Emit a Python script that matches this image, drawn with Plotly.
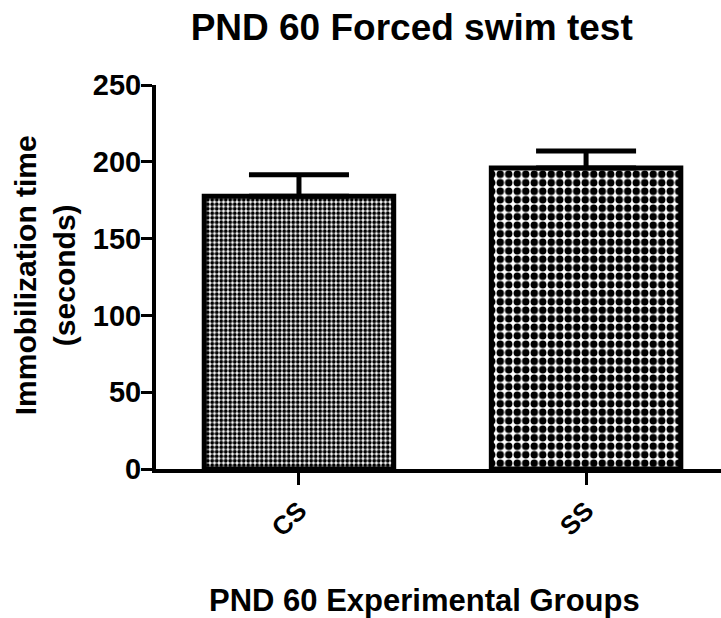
import plotly.graph_objects as go

# Immobilization time (s) per experimental group, mean and upper SEM
groups = ["CS", "SS"]
immobilization = [177.5, 196]
sem = [14, 11]

y_ticks = [0, 50, 100, 150, 200, 250]

# checker-like texture: finer for CS, coarser for SS
pattern_sizes = [4.5, 8.5]

FONT = "Arial, Liberation Sans, sans-serif"

fig = go.Figure(
    go.Bar(
        x=groups,
        y=immobilization,
        width=0.66,
        marker=dict(
            color="white",
            line=dict(color="black", width=5),
            pattern=dict(
                shape=".",
                size=pattern_sizes,
                solidity=0.6,
                fgcolor="black",
                bgcolor="white",
                fillmode="replace",
            ),
        ),
        error_y=dict(
            type="data",
            symmetric=False,
            array=sem,
            arrayminus=[0, 0],
            color="black",
            thickness=5,
            width=50,
        ),
        showlegend=False,
    )
)

fig.update_layout(
    width=721,
    height=618,
    margin=dict(l=156, r=0, t=85, b=149),
    paper_bgcolor="white",
    plot_bgcolor="white",
    font=dict(family=FONT, color="black"),
    title=dict(
        text="<b>PND 60 Forced swim test</b>",
        font=dict(size=37, family=FONT, color="black"),
        xref="container",
        x=0.571,
        xanchor="center",
        yref="container",
        y=0.956,
        yanchor="middle",
    ),
)

fig.update_xaxes(
    range=[-0.498, 1.47],
    tickvals=groups,
    ticktext=[f"<b>{g}</b>" for g in groups],
    showline=True,
    linecolor="black",
    linewidth=4,
    ticks="outside",
    ticklen=12,
    tickwidth=3,
    tickcolor="black",
    tickangle=-45,
    tickfont=dict(size=26, family=FONT, color="black"),
    showgrid=False,
    zeroline=False,
)

fig.update_yaxes(
    range=[0, 250],
    tickvals=y_ticks,
    ticktext=[f"<b>{v}</b>" for v in y_ticks],
    showline=True,
    linecolor="black",
    linewidth=4,
    ticks="outside",
    ticklen=11,
    tickwidth=3,
    tickcolor="black",
    ticklabelstandoff=-6,
    tickfont=dict(size=29, family=FONT, color="black"),
    showgrid=False,
    zeroline=False,
)

fig.add_annotation(
    text="<b>PND 60 Experimental Groups</b>",
    xref="paper", yref="paper",
    x=0.4752, y=-0.342,
    xanchor="center", yanchor="middle",
    showarrow=False,
    font=dict(size=31, family=FONT, color="black"),
)

fig.add_annotation(
    text="<b>Immobilization time</b><br><b>(seconds)</b>",
    xref="paper", yref="paper",
    x=-0.195, y=0.504,
    xanchor="center", yanchor="middle",
    textangle=-90,
    showarrow=False,
    font=dict(size=30, family=FONT, color="black"),
)

fig.write_html("out.html")
